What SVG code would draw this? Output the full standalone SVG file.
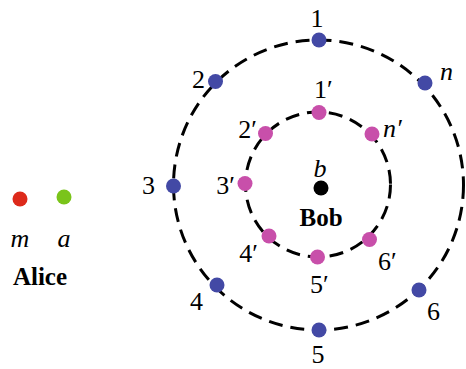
<svg xmlns="http://www.w3.org/2000/svg" width="466" height="369" viewBox="0 0 466 369">
<style>
.ring{fill:none;stroke:#000;stroke-width:3;stroke-dasharray:14 8}
.bl{fill:#4349A5}
.pk{fill:#C84FAA}
.t{font-family:'Liberation Serif','Times New Roman',serif;font-size:26px;fill:#000}
.i{font-style:italic}
.b{font-weight:bold;font-size:25px}
</style>
<rect width="466" height="369" fill="#fff"/>
<g id="connectors">
<circle class="ring" cx="318.5" cy="185" r="145"/>
<circle class="ring" cx="318" cy="184.5" r="72.5"/>
</g>
<g id="alice">
<circle cx="20" cy="199" r="7.5" fill="#DD2A1B"/>
<circle cx="64" cy="197" r="7.5" fill="#7AC41A"/>
<text class="t i" x="20" y="247" text-anchor="middle">m</text>
<text class="t i" x="64" y="247" text-anchor="middle">a</text>
<text class="t b" x="40" y="285" text-anchor="middle">Alice</text>
</g>
<g id="bob">
<circle cx="321" cy="188" r="7.5" fill="#000"/>
<text class="t i" x="320" y="177" text-anchor="middle">b</text>
<text class="t b" x="321" y="226" text-anchor="middle">Bob</text>
</g>
<g id="n1"><circle class="bl" cx="319" cy="40" r="7.5"/><text class="t" x="317" y="27" text-anchor="middle">1</text></g>
<g id="n2"><circle class="bl" cx="215.5" cy="81.5" r="7.5"/><text class="t" x="205" y="88" text-anchor="end">2</text></g>
<g id="nn"><circle class="bl" cx="425" cy="83" r="7.5"/><text class="t i" x="440" y="80">n</text></g>
<g id="n3"><circle class="bl" cx="173.5" cy="186" r="7.5"/><text class="t" x="155" y="194" text-anchor="end">3</text></g>
<g id="n4"><circle class="bl" cx="217" cy="285" r="7.5"/><text class="t" x="203" y="310" text-anchor="end">4</text></g>
<g id="n5"><circle class="bl" cx="319" cy="330" r="7.5"/><text class="t" x="318" y="363" text-anchor="middle">5</text></g>
<g id="n6"><circle class="bl" cx="419" cy="290" r="7.5"/><text class="t" x="427" y="320">6</text></g>
<g id="p1"><circle class="pk" cx="319" cy="112.5" r="7.5"/><text class="t" x="314" y="98">1′</text></g>
<g id="p2"><circle class="pk" cx="265.5" cy="133.5" r="7.5"/><text class="t" x="257" y="138" text-anchor="end">2′</text></g>
<g id="pn"><circle class="pk" cx="372" cy="134" r="7.5"/><text class="t i" x="383" y="137">n′</text></g>
<g id="p3"><circle class="pk" cx="245" cy="183.5" r="7.5"/><text class="t" x="235" y="194" text-anchor="end">3′</text></g>
<g id="p4"><circle class="pk" cx="269" cy="236" r="7.5"/><text class="t" x="258" y="262" text-anchor="end">4′</text></g>
<g id="p5"><circle class="pk" cx="317.5" cy="257" r="7.5"/><text class="t" x="310" y="293">5′</text></g>
<g id="p6"><circle class="pk" cx="369.5" cy="239.5" r="7.5"/><text class="t" x="378" y="270">6′</text></g>
</svg>
